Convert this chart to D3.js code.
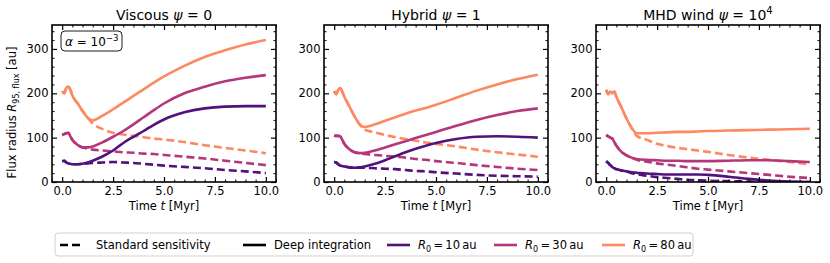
<!DOCTYPE html>
<html>
<head>
<meta charset="utf-8">
<script src="https://cdn.jsdelivr.net/npm/d3@7"></script>
<style>
    body { margin: 0; background: #fff; }
    text { font-family: "DejaVu Sans", sans-serif; fill: #000; }
</style>
</head>
<body>
<svg id="chart"></svg>
<script>
// Flux radius R95 over time, three disc models, deep vs standard sensitivity

let width = 830,
    height = 263;

let panelLeft = [52, 324, 596],
    panelWidth = 224,
    panelTop = 25,
    panelHeight = 157;

// shared time grid [Myr]
let times = [0, 0.1, 0.2, 0.3, 0.4, 0.5, 0.75, 1, 1.25, 1.5, 2, 2.5, 3, 3.5, 4, 4.5, 5, 6, 7, 8, 9, 10];

// Viscous psi = 0
let visc10Deep = [47, 48, 44, 42, 41, 40, 40, 41, 44, 48, 58, 71, 88, 102, 115, 129, 141, 157, 166, 170, 171, 171];
let visc10Std  = [47, 48, 44, 42, 41, 40, 40, 41, 42, 43, 44, 45, 44, 43, 41, 39, 37, 34, 31, 27, 24, 20];
let visc30Deep = [106, 108, 110, 111, 103, 95, 84, 78, 78, 80, 90, 102, 115, 130, 146, 162, 177, 200, 215, 227, 235, 241];
let visc30Std  = [106, 108, 110, 111, 103, 95, 84, 78, 75, 73, 71, 69, 67, 66, 64, 63, 61, 57, 53, 48, 43, 38];
let visc80Deep = [205, 200, 212, 215, 208, 195, 178, 160, 145, 139, 150, 164, 179, 194, 209, 224, 238, 262, 282, 297, 310, 320];
let visc80Std  = [205, 200, 212, 215, 208, 195, 178, 160, 145, 132, 119, 111, 107, 104, 101, 98, 96, 90, 83, 77, 71, 65];

// Hybrid psi = 1
let hyb10Deep = [45, 44, 40, 37, 36, 35, 33, 32, 33, 35, 41, 49, 58, 67, 75, 82, 88, 97, 102, 103, 102, 100];
let hyb10Std  = [45, 44, 40, 37, 36, 35, 33, 32, 32, 32, 31, 30, 29, 27, 25, 24, 22, 19, 16, 14, 13, 12];
let hyb30Deep = [105, 104, 104, 103, 95, 86, 74, 67, 65, 66, 71, 78, 85, 92, 99, 106, 113, 127, 140, 151, 160, 166];
let hyb30Std  = [105, 104, 104, 103, 95, 86, 74, 67, 65, 63, 61, 59, 57, 55, 52, 50, 47, 43, 38, 34, 30, 27];
let hyb80Deep = [205, 198, 208, 212, 203, 192, 170, 148, 130, 124, 130, 138, 146, 154, 161, 167, 174, 190, 206, 220, 232, 242];
let hyb80Std  = [205, 198, 208, 212, 203, 192, 170, 148, 130, 118, 112, 106, 101, 97, 93, 89, 86, 80, 73, 67, 62, 57];

// MHD wind psi = 1e4
let mhd10Deep = [47, 43, 38, 34, 31, 29, 26, 24, 22, 21, 19, 18, 17, 17, 17, 17, 16, 12, 7, 3, 1, 0];
let mhd10Std  = [47, 43, 38, 34, 31, 29, 26, 24, 20, 18, 14, 11, 9, 7, 5, 4, 3, 2, 1, 0, 0, 0];
let mhd30Deep = [106, 103, 100, 98, 90, 82, 68, 60, 55, 52, 50, 49, 48, 48, 47, 47, 47, 48, 49, 49, 47, 45];
let mhd30Std  = [106, 103, 100, 98, 90, 82, 68, 60, 55, 50, 46, 42, 39, 36, 33, 30, 28, 24, 20, 16, 12, 9];
let mhd80Deep = [208, 198, 204, 200, 204, 192, 168, 143, 122, 110, 110, 111, 112, 113, 113, 114, 115, 116, 117, 118, 119, 120];
let mhd80Std  = [208, 198, 204, 200, 204, 192, 168, 143, 122, 104, 95, 86, 81, 77, 74, 71, 68, 61, 55, 50, 45, 40];

let radii = [10, 30, 80];
let colors = ["#51127c", "#b5367a", "#fc8961"];

let xMajor = [0, 2.5, 5, 7.5, 10];
let yMajor = [0, 100, 200, 300];

let panels = [
    { name: "Viscous ", value: "0", sup: null,
      deep: [visc10Deep, visc30Deep, visc80Deep], std: [visc10Std, visc30Std, visc80Std] },
    { name: "Hybrid ", value: "1", sup: null,
      deep: [hyb10Deep, hyb30Deep, hyb80Deep], std: [hyb10Std, hyb30Std, hyb80Std] },
    { name: "MHD wind ", value: "10", sup: "4",
      deep: [mhd10Deep, mhd30Deep, mhd80Deep], std: [mhd10Std, mhd30Std, mhd80Std] }
];

let svg = d3.select("svg#chart")
    .attr("width", width)
    .attr("height", height);

let x = d3.scaleLinear().domain([-0.5, 10.5]).range([0, panelWidth]);
let y = d3.scaleLinear().domain([0, 354]).range([panelHeight, 0]);

let xMinor = d3.range(-0.5, 10.51, 0.5).filter(d => xMajor.indexOf(d) < 0);
let yMinor = d3.range(0, 354, 20).filter(d => yMajor.indexOf(d) < 0);

let line = d3.line()
    .curve(d3.curveMonotoneX)
    .x((d, i) => x(times[i]))
    .y(d => y(d));

panels.forEach((p, k) => drawPanel(p, k));
drawLegend();

function drawPanel(p, k) {
    let g = svg.append("g").attr("transform", `translate(${panelLeft[k]}, ${panelTop})`);

    g.append("clipPath").attr("id", "clip" + k)
        .append("rect").attr("width", panelWidth).attr("height", panelHeight);

    let lines = g.append("g").attr("clip-path", `url(#clip${k})`);

    p.std.forEach((vals, i) => {
        lines.append("path")
            .datum(vals)
            .attr("fill", "none")
            .attr("stroke", colors[i])
            .attr("stroke-width", 2.6)
            .attr("stroke-dasharray", "8,4")
            .attr("d", line);
    });
    p.deep.forEach((vals, i) => {
        lines.append("path")
            .datum(vals)
            .attr("fill", "none")
            .attr("stroke", colors[i])
            .attr("stroke-width", 2.6)
            .attr("stroke-linejoin", "round")
            .attr("d", line);
    });

    // inward ticks on all four sides
    addAxis(g, d3.axisBottom(x), 0, panelHeight, xMajor, xMinor, d3.format(".1f"), 5);
    addAxis(g, d3.axisTop(x), 0, 0, xMajor, xMinor, null, 0);
    addAxis(g, d3.axisLeft(y), 0, 0, yMajor, yMinor, d3.format("d"), 3.5);
    addAxis(g, d3.axisRight(y), panelWidth, 0, yMajor, yMinor, null, 0);

    g.append("rect")
        .attr("width", panelWidth)
        .attr("height", panelHeight)
        .attr("fill", "none")
        .attr("stroke", "#000")
        .attr("stroke-width", 1.6);

    // title
    let title = g.append("text")
        .attr("x", panelWidth / 2)
        .attr("y", -5)
        .attr("text-anchor", "middle")
        .attr("font-size", 14);
    title.append("tspan").text(p.name);
    title.append("tspan").attr("font-style", "italic").text("ψ");
    title.append("tspan").text(" = " + p.value);
    if (p.sup) {
        title.append("tspan").attr("font-size", 10).attr("dy", -6).text(p.sup);
    }

    // x label
    let xl = g.append("text")
        .attr("x", panelWidth / 2)
        .attr("y", 185)
        .attr("text-anchor", "middle")
        .attr("font-size", 11.5);
    xl.append("tspan").text("Time ");
    xl.append("tspan").attr("font-style", "italic").text("t");
    xl.append("tspan").text(" [Myr]");

    if (k == 0) {
        let yl = g.append("text")
            .attr("transform", `translate(-36, ${panelHeight / 2 + 9}) rotate(-90)`)
            .attr("text-anchor", "middle")
            .attr("font-size", 11.5);
        yl.append("tspan").text("Flux radius ");
        yl.append("tspan").attr("font-style", "italic").text("R");
        yl.append("tspan").attr("font-size", 8).attr("dy", 3).text("95, flux");
        yl.append("tspan").attr("dy", -3).text(" [au]");

        g.append("rect")
            .attr("x", 9).attr("y", 6)
            .attr("width", 61).attr("height", 20)
            .attr("rx", 4)
            .attr("fill", "#fff")
            .attr("stroke", "#000")
            .attr("stroke-width", 0.9);
        let a = g.append("text")
            .attr("x", 13).attr("y", 20.5)
            .attr("font-size", 12);
        a.append("tspan").attr("font-style", "italic").text("α");
        a.append("tspan").text(" = 10");
        a.append("tspan").attr("font-size", 8.5).attr("dy", -5).text("−3");
    }
}

function addAxis(g, axis, tx, ty, major, minor, fmt, pad) {
    let ga = g.append("g")
        .attr("transform", `translate(${tx}, ${ty})`)
        .call(axis.tickValues(major).tickSizeInner(-5).tickSizeOuter(0)
            .tickPadding(pad).tickFormat(fmt ? fmt : ""));
    ga.select(".domain").remove();
    ga.selectAll("line").attr("stroke-width", 1.2);
    ga.selectAll("text").attr("font-size", 11.5).attr("font-family", "DejaVu Sans");

    let gm = g.append("g")
        .attr("transform", `translate(${tx}, ${ty})`)
        .call(axis.tickValues(minor).tickSizeInner(-2.5).tickSizeOuter(0).tickFormat(""));
    gm.select(".domain").remove();
    gm.selectAll("line").attr("stroke-width", 1);
}

function drawLegend() {
    let lg = svg.append("g").attr("class", "legend");
    lg.append("rect")
        .attr("x", 55).attr("y", 233)
        .attr("width", 638).attr("height", 23)
        .attr("rx", 3)
        .attr("fill", "#fff")
        .attr("stroke", "#d0d0d0")
        .attr("stroke-width", 1);

    let ly = 245, ty = 249;

    lg.append("line").attr("x1", 60).attr("x2", 84).attr("y1", ly).attr("y2", ly)
        .attr("stroke", "#000").attr("stroke-width", 2.6).attr("stroke-dasharray", "8,4");
    lg.append("text").attr("x", 96).attr("y", ty).attr("font-size", 11.5).text("Standard sensitivity");

    lg.append("line").attr("x1", 243).attr("x2", 266).attr("y1", ly).attr("y2", ly)
        .attr("stroke", "#000").attr("stroke-width", 2.6);
    lg.append("text").attr("x", 274).attr("y", ty).attr("font-size", 11.5).text("Deep integration");

    let lx = [387, 494, 602];
    radii.forEach((r, i) => {
        lg.append("line").attr("x1", lx[i]).attr("x2", lx[i] + 23).attr("y1", ly).attr("y2", ly)
            .attr("stroke", colors[i]).attr("stroke-width", 2.6);
        let t = lg.append("text").attr("x", lx[i] + 31).attr("y", ty).attr("font-size", 11.5);
        t.append("tspan").attr("font-style", "italic").text("R");
        t.append("tspan").attr("font-size", 8).attr("dy", 2.5).text("0");
        t.append("tspan").attr("dy", -2.5).text("\u2009=\u2009" + r + "\u2009au");
    });
}
</script>
</body>
</html>
